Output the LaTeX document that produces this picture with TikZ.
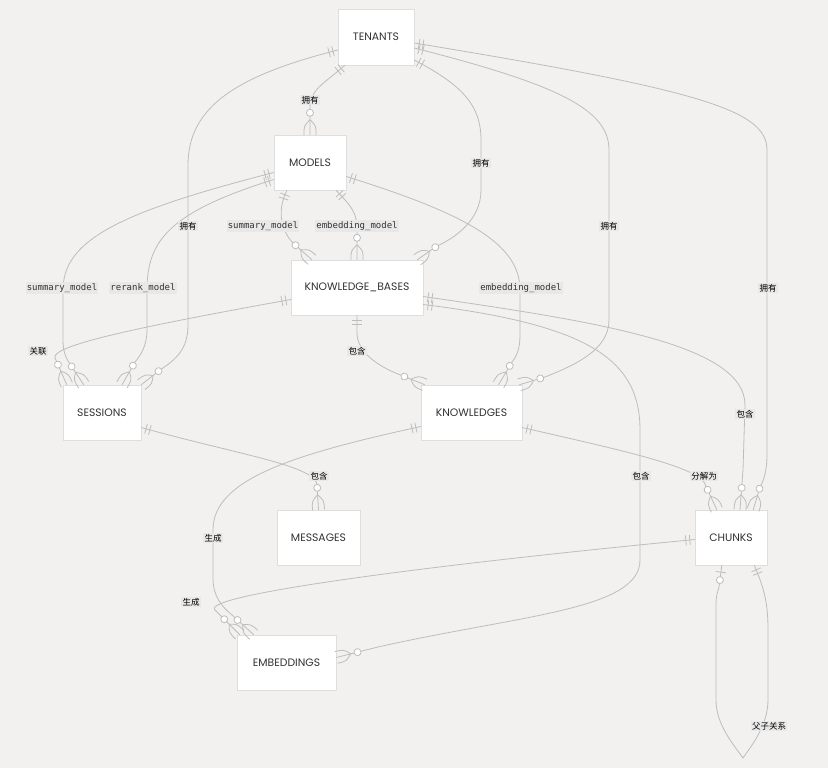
\documentclass[tikz,border=0pt]{standalone}
\usepackage{fontspec}
\setmainfont{Poppins}
\setmonofont{DejaVu Sans Mono}
\newfontfamily\cjk{Noto Sans CJK SC}
\usetikzlibrary{calc}
\usetikzlibrary{decorations.markings}

\definecolor{bgcol}{HTML}{F2F1EF}
\definecolor{linecol}{HTML}{BDBDBD}
\definecolor{boxline}{HTML}{DEDEDE}
\definecolor{lblbg}{HTML}{E8E8E8}
\definecolor{textcol}{HTML}{333333}

\tikzset{
  entity/.style={draw=boxline, fill=white, minimum height=55pt, text=textcol, font=\fontsize{10.8}{12}\selectfont},
  rel/.style={draw=linecol, line width=0.8pt},
  erline/.style={draw=linecol, line width=0.8pt},
  one start/.style={postaction={decorate,decoration={markings,
      mark=at position 5pt with {\draw[erline] (0,-5pt) -- (0,5pt);},
      mark=at position 9pt with {\draw[erline] (0,-5pt) -- (0,5pt);}}}},
  many end/.style={postaction={decorate,decoration={markings,
      mark=at position -22pt with {\draw[erline,fill=white] (0,0) circle (3.5pt);
        \draw[erline] (7pt,0) .. controls (13pt,6pt) .. (22pt,6pt);
        \draw[erline] (7pt,0) .. controls (13pt,-6pt) .. (22pt,-6pt);}}}},
  zero one end/.style={postaction={decorate,decoration={markings,
      mark=at position -15pt with {\draw[erline,fill=white] (0,0) circle (3.5pt);},
      mark=at position -7pt with {\draw[erline] (0,-5pt) -- (0,5pt);}}}},
  lbl/.style={fill=lblbg, inner sep=1.2pt, text=black, font=\cjk\fontsize{8.5}{10}\selectfont},
  lblm/.style={lbl, text=textcol, font=\ttfamily\fontsize{9}{10}\selectfont},
}

\begin{document}
\begin{tikzpicture}[x=1pt, y=-1pt]
  % background
  \fill[bgcol] (0,0) rectangle (828,768);

  % entities
  \node[entity, minimum width=76pt, minimum height=56pt] (tenants) at (376,37) {TENANTS};
  \node[entity, minimum width=72pt] (models) at (310,162.5) {MODELS};
  \node[entity, minimum width=132pt] (kb) at (357,287.5) {KNOWLEDGE\_BASES};
  \node[entity, minimum width=78pt] (sessions) at (102,412.5) {SESSIONS};
  \node[entity, minimum width=101pt] (knowledges) at (471.5,412.5) {KNOWLEDGES};
  \node[entity, minimum width=83pt] (messages) at (318.5,537.5) {MESSAGES};
  \node[entity, minimum width=72pt] (chunks) at (731,537.5) {CHUNKS};
  \node[entity, minimum width=99pt] (embeddings) at (286.5,662.5) {EMBEDDINGS};

  % tenants
  \draw[rel, one start, many end] ($(tenants.south)+(-31,0)$) .. controls (322,85) and (310,90) .. (310,108) -- (models.north);
  \draw[rel, one start, many end] ($(tenants.west)+(0,13)$) .. controls (240,75) and (188,105) .. (188,165) -- (188,325) .. controls (188,350) and (175,360) .. (160,370) -- (sessions.north east);
  \draw[rel, one start, many end] ($(tenants.east)+(0,23)$) .. controls (462,85) and (481,105) .. (481,140) -- (481,190) .. controls (481,220) and (455,238) .. (437,246) -- ($(kb.north east)+(-6,0)$);
  \draw[rel, one start, many end] ($(tenants.east)+(0,11)$) .. controls (560,85) and (609,110) .. (609,150) -- (609,320) .. controls (609,350) and (575,365) .. (545,377) -- ($(knowledges.north east)+(-3,0)$);
  \draw[rel, one start, many end] ($(tenants.east)+(0,6)$) .. controls (700,90) and (767,110) .. (767,150) -- (767,455) .. controls (767,472) and (763,482) .. (760,487) -- ($(chunks.north east)+(-14,0)$);

  % models
  \draw[rel, one start, many end] ($(models.south)+(-23,0)$) .. controls (278,208) and (279,228) .. (293,243) -- ($(kb.north)+(-45,0)$);
  \draw[rel, one start, many end] ($(models.south)+(26,0)$) .. controls (350,205) and (357,212) .. (357,228) -- (kb.north);
  \draw[rel, one start, many end] ($(models.west)+(0,10)$) .. controls (120,212) and (63,240) .. (63,290) -- (63,340) .. controls (63,352) and (66,358) .. (70,364) -- ($(sessions.north west)+(21,0)$);
  \draw[rel, one start, many end] ($(models.west)+(0,17)$) .. controls (170,212) and (147,240) .. (147,290) -- (147,330) .. controls (147,345) and (141,355) .. (135,362) -- ($(sessions.north)+(20,0)$);
  \draw[rel, one start, many end] ($(models.east)+(0,14)$) .. controls (470,215) and (520,245) .. (520,290) -- (520,335) .. controls (520,348) and (517,356) .. (512,362) -- ($(knowledges.north)+(27,0)$);

  % knowledge bases
  \draw[rel, one start, many end] ($(kb.west)+(0,12)$) .. controls (150,325) and (50,345) .. (55,358) -- ($(sessions.north west)+(4,0)$);
  \draw[rel, one start, many end] (kb.south) -- (357,333) .. controls (357,352) and (378,366) .. (398,374) -- ($(knowledges.north west)+(4,0)$);
  \draw[rel, one start, many end] ($(kb.east)+(0,9)$) .. controls (600,322) and (745,345) .. (745,405) -- (743,470) -- ($(chunks.north)+(9,0)$);
  \draw[rel, one start, many end] ($(kb.east)+(0,17)$) .. controls (590,325) and (640,360) .. (640,430) -- (640,560) .. controls (640,610) and (520,615) .. (378,647) -- ($(embeddings.east)+(0,-5)$);

  % sessions, knowledges, chunks
  \draw[rel, one start, many end] ($(sessions.east)+(0,15)$) .. controls (240,455) and (312,465) .. (317,484) -- (messages.north);
  \draw[rel, one start, many end] ($(knowledges.east)+(0,15)$) .. controls (620,450) and (690,465) .. (704,482) -- ($(chunks.north west)+(22,0)$);
  \draw[rel, one start, many end] ($(knowledges.west)+(0,14)$) .. controls (290,455) and (213,480) .. (213,530) -- (213,578) .. controls (213,595) and (220,605) .. (232,615) -- ($(embeddings.north west)+(17,0)$);
  \draw[rel, one start, many end] ($(chunks.west)+(0,2)$) .. controls (430,565) and (200,595) .. (215,610) -- ($(embeddings.north west)+(3,0)$);
  \draw[rel, one start, zero one end] ($(chunks.south east)+(-13,0)$) .. controls (765,590) and (768,605) .. (768,630) -- (768,700) .. controls (768,725) and (752,745) .. (743,758) .. controls (734,745) and (716,725) .. (716,700) -- (716,605) .. controls (716,595) and (718,591) .. (719,587) -- ($(chunks.south west)+(27,0)$);

  % labels
  \node[lbl] (own1) at (310,100) {拥有};
  \node[lbl] (own2) at (188,226) {拥有};
  \node[lbl] (own3) at (481,163) {拥有};
  \node[lbl] (own4) at (609,226) {拥有};
  \node[lbl] (own5) at (768,288) {拥有};
  \node[lblm] (summ1) at (263,226) {summary\_model};
  \node[lblm] (emb1) at (357,226) {embedding\_model};
  \node[lblm] (summ2) at (62,288) {summary\_model};
  \node[lblm] (rerank) at (143,288) {rerank\_model};
  \node[lblm] (emb2) at (521,288) {embedding\_model};
  \node[lbl] (assoc) at (38,351) {关联};
  \node[lbl] (cont1) at (357,351) {包含};
  \node[lbl] (cont2) at (745,414) {包含};
  \node[lbl] (cont3) at (641,476) {包含};
  \node[lbl] (cont4) at (319,476) {包含};
  \node[lbl] (split) at (704,476) {分解为};
  \node[lbl] (gen1) at (213,538) {生成};
  \node[lbl] (gen2) at (191,602) {生成};
  \node[lbl] (parent) at (769,726) {父子关系};
\end{tikzpicture}
\end{document}
